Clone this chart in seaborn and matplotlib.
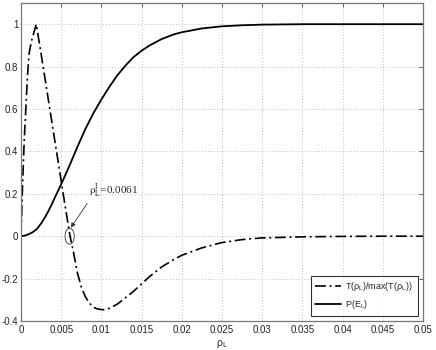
import numpy as np
import pandas as pd
import matplotlib
matplotlib.use("Agg")
import matplotlib.pyplot as plt
import seaborn as sns
from matplotlib.patches import Ellipse

# ---- data ----
rho_T = [0, 0.0002, 0.0004, 0.0006, 0.0008, 0.001, 0.0013, 0.0016, 0.0019,
         0.0025, 0.003, 0.0035, 0.004, 0.0045, 0.005, 0.0055, 0.0061, 0.0065,
         0.007, 0.0075, 0.008, 0.0085, 0.009, 0.0095, 0.0102, 0.011, 0.012,
         0.013, 0.014, 0.015, 0.016, 0.0175, 0.019, 0.02, 0.0225, 0.025,
         0.0275, 0.03, 0.035, 0.04, 0.045, 0.05]
T_norm = [0, 0.25, 0.45, 0.6, 0.75, 0.86, 0.92, 0.96, 1.0,
          0.86, 0.74, 0.62, 0.50, 0.38, 0.26, 0.14, 0.0, -0.07,
          -0.17, -0.24, -0.285, -0.315, -0.335, -0.343, -0.347, -0.34, -0.32,
          -0.29, -0.26, -0.225, -0.19, -0.145, -0.11, -0.09, -0.055, -0.03,
          -0.016, -0.008, -0.003, -0.001, 0.0, 0.0]

rho_P = [0, 0.0005, 0.001, 0.0015, 0.002, 0.0025, 0.003, 0.0035, 0.004,
         0.0045, 0.005, 0.006, 0.007, 0.008, 0.009, 0.01, 0.011, 0.012,
         0.013, 0.014, 0.015, 0.016, 0.0175, 0.019, 0.02, 0.0225, 0.025,
         0.0275, 0.03, 0.035, 0.04, 0.045, 0.05]
P_E = [0, 0.003, 0.01, 0.02, 0.035, 0.06, 0.09, 0.125, 0.165,
       0.205, 0.245, 0.33, 0.42, 0.505, 0.58, 0.645, 0.705, 0.76,
       0.805, 0.845, 0.875, 0.9, 0.93, 0.952, 0.962, 0.98, 0.99,
       0.995, 0.998, 1.0, 1.0, 1.0, 1.0]

x_ticks = [0, 0.005, 0.01, 0.015, 0.02, 0.025, 0.03, 0.035, 0.04, 0.045, 0.05]
x_ticklabels = ["0", "0.005", "0.01", "0.015", "0.02", "0.025", "0.03",
                "0.035", "0.04", "0.045", "0.05"]
y_ticks = [-0.4, -0.2, 0, 0.2, 0.4, 0.6, 0.8, 1]
y_ticklabels = ["-0.4", "-0.2", "0", "0.2", "0.4", "0.6", "0.8", "1"]

rho_I = 0.0061
label_T = r"T($\rho_{\rm L}$)/max(T($\rho_{\rm L}$))"
label_P = r"P(E$_{\rm L}$)"

sns.set_theme(style="white")
plt.rcParams["font.family"] = ["Liberation Sans", "DejaVu Sans"]
plt.rcParams["mathtext.fontset"] = "custom"
plt.rcParams["mathtext.rm"] = "Liberation Sans"
plt.rcParams["mathtext.it"] = "Liberation Sans:italic"
plt.rcParams["mathtext.default"] = "rm"

W, H = 436, 350
fig = plt.figure(figsize=(W / 100, H / 100), dpi=100)
ax = fig.add_axes([21 / W, (H - 321) / H, (423 - 21) / W, (321 - 3) / H])

dfT = pd.DataFrame({"rho": rho_T, "val": T_norm})
dfP = pd.DataFrame({"rho": rho_P, "val": P_E})

sns.lineplot(data=dfT, x="rho", y="val", ax=ax, color="black", lw=1.2,
             linestyle=(0, (6.5, 2.2, 1.2, 2.2)), label=label_T, sort=False)
sns.lineplot(data=dfP, x="rho", y="val", ax=ax, color="black", lw=1.3,
             label=label_P, sort=False)

ax.set_xlim(0, 0.05)
ax.set_ylim(-0.4, 1.1)
ax.set_xticks(x_ticks)
ax.set_xticklabels(x_ticklabels)
ax.set_yticks(y_ticks)
ax.set_yticklabels(y_ticklabels)
ax.grid(True, linestyle=(0, (1, 2.5)), color="#aaaaaa", lw=0.6)
ax.tick_params(direction="in", length=3, width=0.6, colors="#444444",
               labelcolor="#222222", labelsize=7, top=True, right=True)
ax.tick_params(axis="x", pad=3)
ax.tick_params(axis="y", pad=2)
for s in ax.spines.values():
    s.set_color("#777777")
    s.set_linewidth(0.9)
    s.set_visible(True)

ax.set_xlabel(r"$\rho_{\rm L}$", fontsize=7.5, labelpad=2, color="#222222")
ax.set_ylabel("")

# annotation at the zero crossing
ax.add_patch(Ellipse((rho_I - 0.00005, 0.0), width=0.00115, height=0.075,
                     fill=False, edgecolor="#333333", lw=0.6))
ax.annotate(r"$\rho_{\rm L}^{\rm I}$=0.0061", xy=(rho_I + 0.0001, 0.04),
            xytext=(0.0085, 0.17), fontsize=8, family="Liberation Serif",
            math_fontfamily="stix", ha="left", va="bottom",
            arrowprops=dict(arrowstyle="-|>", color="#333333", lw=0.6,
                            mutation_scale=7, shrinkA=0, shrinkB=0,
                            relpos=(0.0, 0.0)))

leg = ax.legend(loc="lower right", fontsize=6.5, frameon=True, fancybox=False,
                edgecolor="black", handlelength=2.8, borderpad=0.5,
                labelspacing=0.55, borderaxespad=0.6, handletextpad=0.5)
leg.get_frame().set_linewidth(0.8)

fig.savefig("out.png", dpi=100)
